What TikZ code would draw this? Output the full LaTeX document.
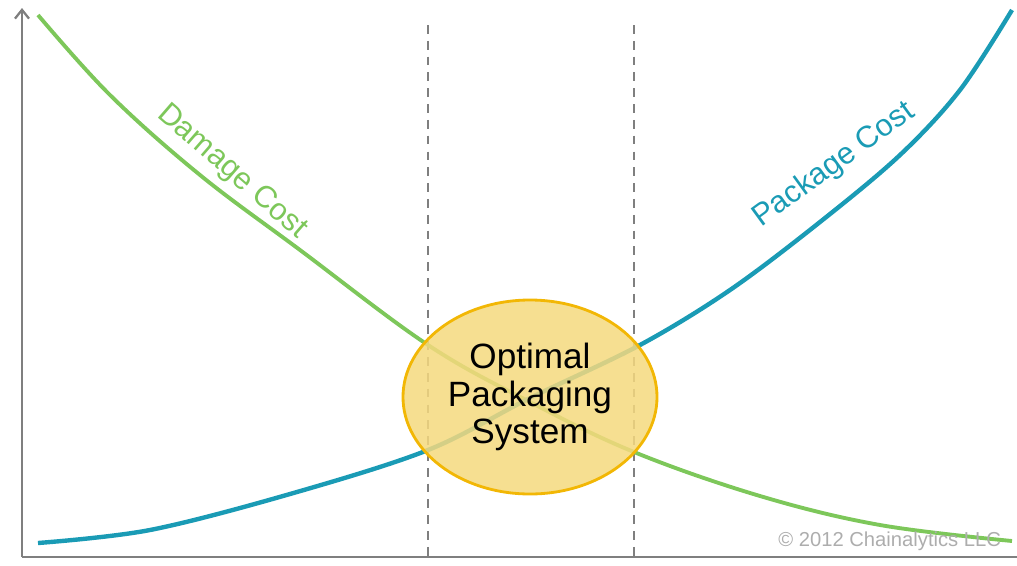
\documentclass[tikz,border=0pt]{standalone}
\usepackage{fontspec}
\setmainfont{Liberation Sans}
\usetikzlibrary{arrows.meta,shapes.geometric}
\definecolor{dmg}{HTML}{7DC75A}
\definecolor{pkg}{HTML}{1A9BB5}
\definecolor{axisgray}{HTML}{7F7F7F}
\definecolor{ellfill}{HTML}{F5D97E}
\definecolor{ellline}{HTML}{F2B705}
\tikzset{
  axisline/.style={draw=axisgray, line width=1.3pt},
  divider/.style={draw=axisgray, line width=1.2pt, dash pattern=on 5pt off 4pt},
  dmgcurve/.style={draw=dmg, line width=2.2pt},
  pkgcurve/.style={draw=pkg, line width=2.5pt},
  curvelabel/.style={font=\fontsize{17.5}{20}\selectfont},
  bubble/.style={ellipse, draw=ellline, line width=1.6pt, fill=ellfill, fill opacity=0.85, text opacity=1, minimum width=254*0.02cm, minimum height=194*0.02cm, inner sep=0pt, align=center, font=\fontsize{20}{21.5}\selectfont},
}
\begin{document}
\begin{tikzpicture}[x=0.02cm, y=-0.02cm]
\useasboundingbox (0,0) rectangle (1017,565);
% axes
\coordinate (origin) at (22,557);
\coordinate (ytop) at (22,8);
\coordinate (xend) at (1017,557);
\draw[axisline, -{Straight Barb[length=5pt,width=8pt]}] (origin) -- (ytop);
\draw[axisline] (origin) -- (xend);
% dividers
\coordinate (d1t) at (428,25); \coordinate (d1b) at (428,560);
\coordinate (d2t) at (634,25); \coordinate (d2b) at (634,560);
\draw[divider] (d1t) -- (d1b);
\draw[divider] (d2t) -- (d2b);
% curves
\draw[dmgcurve] plot[smooth, tension=0.6] coordinates {(38,15) (110,95) (200,175) (300,250) (428,345) (530,402) (634,452) (760,496) (880,525) (1012,541)};
\draw[pkgcurve] plot[smooth, tension=0.55] coordinates {(38,543) (150,530) (290,494) (428,450) (530,398) (640,345) (730,290) (820,222) (900,155) (960,90) (1012,10)};
% labels
\node[curvelabel, text=dmg, rotate=-41] (dlabel) at (232,172) {Damage Cost};
\node[curvelabel, text=pkg, rotate=36] (plabel) at (834,165) {Package Cost};
% ellipse
\node[bubble] (opt) at (530,397) {Optimal\\Packaging\\System};
% copyright
\node[text=black!32, font=\fontsize{11.5}{13}\selectfont, anchor=west, inner sep=0pt] (copy) at (778,541) {© 2012 Chainalytics LLC};
\end{tikzpicture}
\end{document}
